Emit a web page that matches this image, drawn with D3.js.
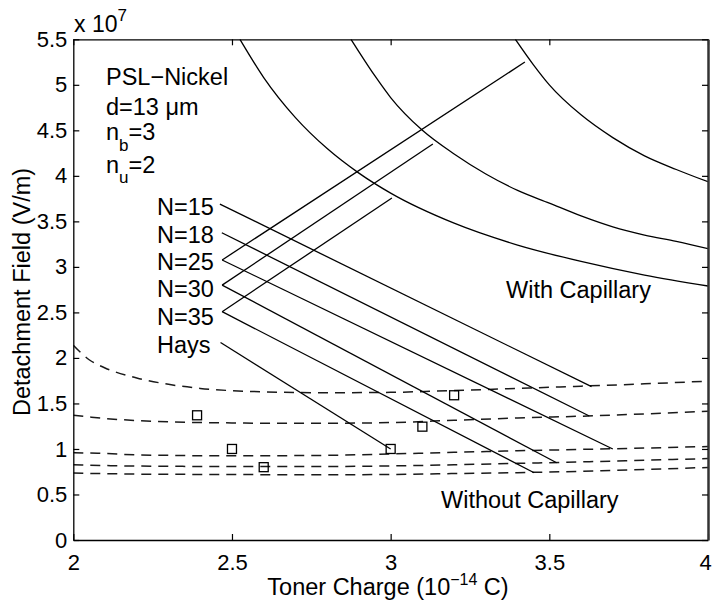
<!DOCTYPE html>
<html>
<head>
<meta charset="utf-8">
<script src="https://cdn.jsdelivr.net/npm/d3@7"></script>
<style>
  html, body { margin: 0; padding: 0; background: #fff; }
  svg { display: block; }
  text { font-family: "Liberation Sans", Arial, Helvetica, sans-serif; fill: #000; }
</style>
</head>
<body>
<svg id="chart" width="713" height="602"></svg>
<script>
// ---------------- data (toner charge in 1e-14 C, field in 1e7 V/m) ----------------
const xTicks = [2, 2.5, 3, 3.5, 4];
const xTickLabels = ["2", "2.5", "3", "3.5", "4"];
const yTicks = [0, 0.5, 1, 1.5, 2, 2.5, 3, 3.5, 4, 4.5, 5, 5.5];
const yTickLabels = ["0", "0.5", "1", "1.5", "2", "2.5", "3", "3.5", "4", "4.5", "5", "5.5"];

// With capillary (solid curves)
const cap1Q = [2.525, 2.6, 2.7, 2.8, 2.9, 3.0, 3.2, 3.4, 3.6, 3.8, 4.0];
const cap1E = [5.5, 5.08, 4.64, 4.30, 4.03, 3.81, 3.48, 3.24, 3.06, 2.91, 2.79];
const cap2Q = [2.875, 2.95, 3.0, 3.1, 3.2, 3.3, 3.4, 3.5, 3.6, 3.7, 3.8, 3.9, 4.0];
const cap2E = [5.5, 5.1, 4.86, 4.50, 4.24, 4.02, 3.84, 3.70, 3.56, 3.44, 3.35, 3.28, 3.20];
const cap3Q = [3.393, 3.45, 3.5, 3.6, 3.7, 3.8, 3.9, 4.0];
const cap3E = [5.5, 5.22, 5.0, 4.67, 4.42, 4.22, 4.07, 3.935];

// Without capillary (dashed curves)
const noCapQ = [2.0, 2.05, 2.1, 2.2, 2.3, 2.4, 2.5, 2.6, 2.8, 3.0, 3.2, 3.4, 3.6, 3.8, 4.0];
const noCap1E = [2.14, 1.98, 1.89, 1.78, 1.71, 1.665, 1.64, 1.628, 1.618, 1.622, 1.642, 1.665, 1.69, 1.715, 1.745];
const noCap2E = [1.37, 1.352, 1.335, 1.312, 1.298, 1.29, 1.286, 1.283, 1.283, 1.29, 1.315, 1.34, 1.36, 1.385, 1.415];
const noCap3E = [0.96, 0.955, 0.95, 0.935, 0.93, 0.926, 0.926, 0.926, 0.93, 0.945, 0.963, 0.98, 0.995, 1.01, 1.027];
const noCap4E = [0.826, 0.822, 0.818, 0.812, 0.81, 0.808, 0.808, 0.808, 0.808, 0.814, 0.826, 0.842, 0.858, 0.876, 0.895];
const noCap5E = [0.735, 0.732, 0.729, 0.724, 0.722, 0.72, 0.719, 0.718, 0.716, 0.72, 0.73, 0.74, 0.755, 0.775, 0.797];

// Label leader lines
const labelNames = ["N=15", "N=18", "N=25", "N=30", "N=35", "Hays"];
const labelQ = [2.462, 2.468, 2.469, 2.469, 2.469, 2.464];
const labelE = [3.69, 3.375, 3.076, 2.80, 2.508, 2.17];
const fallQ = [3.633, 3.626, 3.700, 3.523, 3.452, 3.0];
const fallE = [1.684, 1.362, 1.0, 0.849, 0.739, 1.0];
const riseIdx = [2, 3, 4];
const riseQ = [3.423, 3.133, 3.004];
const riseE = [5.25, 4.35, 3.757];

// Measured (Hays) points
const measQ = [2.39, 2.5, 2.6, 3.0, 3.1, 3.2];
const measE = [1.37, 1.0, 0.8, 1.0, 1.245, 1.59];

// ---------------- drawing ----------------
const svg = d3.select("#chart");
const X0 = 73.3, X1 = 708, Y0 = 39.3, Y1 = 540;
const x = d3.scaleLinear().domain([2, 4]).range([X0, X1]);
const y = d3.scaleLinear().domain([0, 5.5]).range([Y1, Y0]);

svg.append("defs").append("clipPath").attr("id", "clip")
  .append("rect").attr("x", X0).attr("y", Y0).attr("width", X1 - X0).attr("height", Y1 - Y0);

const plot = svg.append("g").attr("clip-path", "url(#clip)");
const line = d3.line().x(d => x(d[0])).y(d => y(d[1])).curve(d3.curveMonotoneX);
const zip = (a, b) => a.map((v, i) => [v, b[i]]);

// dashed curves
[noCap1E, noCap2E, noCap3E, noCap4E, noCap5E].forEach(E => {
  plot.append("path").datum(zip(noCapQ, E)).attr("d", line)
    .attr("fill", "none").attr("stroke", "#1a1a1a").attr("stroke-width", 1.5)
    .attr("stroke-dasharray", "10,7");
});

// solid capillary curves
[[cap1Q, cap1E], [cap2Q, cap2E], [cap3Q, cap3E]].forEach(([Q, E]) => {
  plot.append("path").datum(zip(Q, E)).attr("d", line)
    .attr("fill", "none").attr("stroke", "#000").attr("stroke-width", 1.3);
});

// leader lines
labelNames.forEach((n, i) => {
  plot.append("line")
    .attr("x1", x(labelQ[i])).attr("y1", y(labelE[i]))
    .attr("x2", x(fallQ[i])).attr("y2", y(fallE[i]))
    .attr("stroke", "#000").attr("stroke-width", 1.3);
});
riseIdx.forEach((li, k) => {
  plot.append("line")
    .attr("x1", x(labelQ[li])).attr("y1", y(labelE[li]))
    .attr("x2", x(riseQ[k])).attr("y2", y(riseE[k]))
    .attr("stroke", "#000").attr("stroke-width", 1.3);
});

// squares
const sq = 9;
plot.selectAll("rect.m").data(zip(measQ, measE)).enter().append("rect")
  .attr("class", "m")
  .attr("x", d => x(d[0]) - sq / 2).attr("y", d => y(d[1]) - sq / 2)
  .attr("width", sq).attr("height", sq)
  .attr("fill", "none").attr("stroke", "#000").attr("stroke-width", 1.3);

// axes
const fs = 22;
const gB = svg.append("g").attr("transform", `translate(0,${Y1})`)
  .call(d3.axisBottom(x).tickValues(xTicks).tickFormat((d, i) => xTickLabels[i])
    .tickSizeInner(-6).tickSizeOuter(0).tickPadding(14));
const gT = svg.append("g").attr("transform", `translate(0,${Y0})`)
  .call(d3.axisTop(x).tickValues(xTicks).tickFormat("").tickSizeInner(-6).tickSizeOuter(0));
const gL = svg.append("g").attr("transform", `translate(${X0},0)`)
  .call(d3.axisLeft(y).tickValues(yTicks).tickFormat((d, i) => yTickLabels[i])
    .tickSizeInner(-6).tickSizeOuter(0).tickPadding(6));
const gR = svg.append("g").attr("transform", `translate(${X1},0)`)
  .call(d3.axisRight(y).tickValues(yTicks).tickFormat("").tickSizeInner(-6).tickSizeOuter(0));
[gB, gT, gL, gR].forEach(g => {
  g.selectAll("path.domain").attr("stroke", "#000").attr("stroke-width", 1.3);
  g.selectAll("line").attr("stroke", "#000").attr("stroke-width", 1.2);
  g.selectAll("text").attr("font-size", fs).attr("font-family", null).attr("fill", "#000");
});
gR.select("path.domain").attr("stroke-width", 2.5).attr("stroke", "#333");
// keep the last x tick label inside the picture
gB.selectAll(".tick text").filter(d => d === 4).attr("dx", -3);

// exponent label
const ex = svg.append("text").attr("x", 74).attr("y", 32).attr("font-size", 23);
ex.append("tspan").text("x 10");
ex.append("tspan").attr("font-size", 17).attr("dy", -11).text("7");

// parameter block
const fa = 23.5;
svg.append("text").attr("x", 106).attr("y", 85).attr("font-size", fa).text("PSL\u2212Nickel");
svg.append("text").attr("x", 106).attr("y", 115).attr("font-size", fa).text("d=13 \u03bcm");
const nb = svg.append("text").attr("x", 106).attr("y", 140).attr("font-size", fa);
nb.append("tspan").text("n");
nb.append("tspan").attr("font-size", 17).attr("dy", 11).text("b");
nb.append("tspan").attr("dy", -11).text("=3");
const nu = svg.append("text").attr("x", 106).attr("y", 173).attr("font-size", fa);
nu.append("tspan").text("n");
nu.append("tspan").attr("font-size", 17).attr("dy", 10).text("u");
nu.append("tspan").attr("dy", -10).text("=2");

// N labels
const labelBase = [215, 243, 270, 297, 325, 353];
labelNames.forEach((n, i) => {
  svg.append("text").attr("x", 157).attr("y", labelBase[i]).attr("font-size", fa).text(n);
});

svg.append("text").attr("x", 506).attr("y", 298).attr("font-size", fa).text("With Capillary");
svg.append("text").attr("x", 441).attr("y", 508).attr("font-size", fa).text("Without Capillary");

// axis titles
const xl = svg.append("text").attr("x", 388).attr("y", 595).attr("font-size", fa).attr("text-anchor", "middle");
xl.append("tspan").text("Toner Charge (10");
xl.append("tspan").attr("font-size", 16).attr("dy", -10).text("\u221214");
xl.append("tspan").attr("dy", 10).text(" C)");

svg.append("text").attr("transform", "translate(30,292) rotate(-90)")
  .attr("font-size", fa).attr("text-anchor", "middle").text("Detachment Field (V/m)");
</script>
</body>
</html>
